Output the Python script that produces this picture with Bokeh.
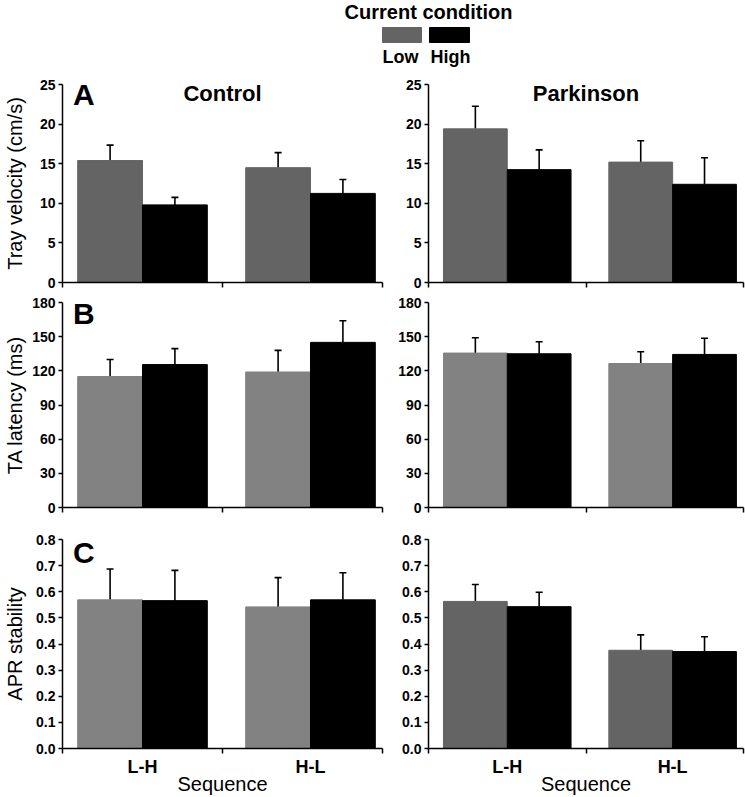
from bokeh.plotting import figure
from bokeh.layouts import column, row
from bokeh.models import (Range1d, FixedTicker, LinearAxis, Whisker, TeeHead,
                          ColumnDataSource, Label)
from bokeh.core.properties import value
from bokeh.embed import file_html
from bokeh.resources import INLINE

FONT = "Liberation Sans"

# ---------------- data ----------------
sequences = ["L-H", "H-L"]
conditions = ["Low", "High"]
groups = ["Control", "Parkinson"]

# Panel A: tray velocity (cm/s)
vel_control_low = [15.4, 14.5]
vel_control_low_se = [1.95, 1.9]
vel_control_high = [9.8, 11.25]
vel_control_high_se = [0.95, 1.75]
vel_parkinson_low = [19.4, 15.2]
vel_parkinson_low_se = [2.85, 2.7]
vel_parkinson_high = [14.25, 12.4]
vel_parkinson_high_se = [2.5, 3.35]
vel_ticks = [0, 5, 10, 15, 20, 25]
vel_tick_labels = ["0", "5", "10", "15", "20", "25"]

# Panel B: TA latency (ms)
lat_control_low = [115, 119]
lat_control_low_se = [15, 19]
lat_control_high = [125.5, 145]
lat_control_high_se = [14, 19]
lat_parkinson_low = [135.6, 126.4]
lat_parkinson_low_se = [13.4, 10.4]
lat_parkinson_high = [135, 134.4]
lat_parkinson_high_se = [10.6, 14.2]
lat_ticks = [0, 30, 60, 90, 120, 150, 180]
lat_tick_labels = ["0", "30", "60", "90", "120", "150", "180"]

# Panel C: APR stability
apr_control_low = [0.569, 0.542]
apr_control_low_se = [0.118, 0.112]
apr_control_high = [0.566, 0.569]
apr_control_high_se = [0.116, 0.104]
apr_parkinson_low = [0.563, 0.376]
apr_parkinson_low_se = [0.065, 0.059]
apr_parkinson_high = [0.543, 0.371]
apr_parkinson_high_se = [0.055, 0.057]
apr_ticks = [0.0, 0.1, 0.2, 0.3, 0.4, 0.5, 0.6, 0.7, 0.8]
apr_tick_labels = ["0.0", "0.1", "0.2", "0.3", "0.4", "0.5", "0.6", "0.7", "0.8"]

# ---------------- layout constants ----------------
GROUP_CENTERS = [0.5, 1.55]
BAR_W = 0.405
DARK_GRAY = "#646464"
LIGHT_GRAY = "#828282"

LEFT_W, RIGHT_W = 395, 350
LEFT_BORDER = (62, 13)
RIGHT_BORDER = (33, 2)
TITLE_OFFSET = 9     # px below frame top for title anchor


def make_panel(low, low_se, high, high_se, ymax, ticks, tick_labels, low_color,
               side, height, border_tb, ylabel=None, ylabel_standoff=5,
               letter=None, letter_offset=10, title=None, bottom_labels=False):
    width = LEFT_W if side == "left" else RIGHT_W
    bl, br = LEFT_BORDER if side == "left" else RIGHT_BORDER
    bt, bb = border_tb
    frame_h = height - bt - bb
    p = figure(width=width, height=height, x_range=Range1d(0, 2),
               y_range=Range1d(0, ymax), output_backend="svg",
               toolbar_location=None, min_border_left=bl, min_border_right=br,
               min_border_top=bt, min_border_bottom=bb)
    p.outline_line_color = None
    p.grid.visible = False
    p.background_fill_color = "white"
    p.border_fill_color = "white"

    x_low = [c - BAR_W / 2 for c in GROUP_CENTERS]
    x_high = [c + BAR_W / 2 for c in GROUP_CENTERS]
    p.vbar(x=x_low, top=low, width=BAR_W, bottom=0, fill_color=low_color,
           line_color=low_color)
    p.vbar(x=x_high, top=high, width=BAR_W, bottom=0, fill_color="black",
           line_color="black")

    for xs, vals, ses in ((x_low, low, low_se), (x_high, high, high_se)):
        src = ColumnDataSource(dict(x=xs, lower=vals,
                                    upper=[v + s for v, s in zip(vals, ses)]))
        w = Whisker(source=src, base="x", lower="lower", upper="upper",
                    dimension="height", line_color="black", line_width=1.6,
                    lower_head=None,
                    upper_head=TeeHead(size=7, line_color="black", line_width=1.6))
        p.add_layout(w)

    # y axis
    ya = p.yaxis[0]
    ya.ticker = FixedTicker(ticks=ticks)
    ya.major_label_overrides = {t: l for t, l in zip(ticks, tick_labels)}
    ya.major_label_text_font = FONT
    ya.major_label_text_font_style = "bold"
    ya.major_label_text_font_size = "14px"
    ya.major_label_text_color = "black"
    ya.major_label_standoff = 3
    ya.major_tick_out = 4
    ya.major_tick_in = 0
    ya.minor_tick_out = 0
    ya.minor_tick_in = 0
    ya.axis_line_color = "black"
    ya.axis_line_width = 1.5
    ya.major_tick_line_width = 1.5
    ya.major_tick_line_color = "black"
    if ylabel:
        ya.axis_label = ylabel
        ya.axis_label_text_font = FONT
        ya.axis_label_text_font_style = "normal"
        ya.axis_label_text_font_size = "20px"
        ya.axis_label_text_color = "black"
        ya.axis_label_standoff = ylabel_standoff

    # x axis (tick marks only)
    xa = p.xaxis[0]
    xa.ticker = FixedTicker(ticks=[0, 1, 2])
    xa.major_label_overrides = {0: "", 1: "", 2: ""}
    xa.major_label_text_font_size = "0px"
    xa.major_label_standoff = 0
    xa.major_tick_out = 5
    xa.major_tick_in = 0
    xa.minor_tick_out = 0
    xa.minor_tick_in = 0
    xa.axis_line_color = "black"
    xa.axis_line_width = 1.5
    xa.major_tick_line_width = 1.5
    xa.major_tick_line_color = "black"

    if bottom_labels:
        xb = LinearAxis(ticker=FixedTicker(ticks=GROUP_CENTERS),
                        major_label_overrides={c: s for c, s in zip(GROUP_CENTERS, sequences)},
                        major_tick_out=0, major_tick_in=0, minor_tick_out=0,
                        minor_tick_in=0, axis_line_color=None,
                        major_label_standoff=3,
                        major_label_text_font=FONT,
                        major_label_text_font_style="bold",
                        major_label_text_font_size="18px",
                        major_label_text_color="black",
                        axis_label="Sequence", axis_label_text_font=FONT,
                        axis_label_text_font_style="normal",
                        axis_label_text_font_size="20px",
                        axis_label_text_color="black",
                        axis_label_standoff=-7)
        p.add_layout(xb, "below")

    if letter:
        p.add_layout(Label(x=0.065, y=ymax * (1 - letter_offset / frame_h), text=letter,
                           text_font=FONT, text_font_style="bold",
                           text_font_size="30px", text_color="black",
                           text_baseline="alphabetic", text_align="left"))
    if title:
        p.add_layout(Label(x=1.0, y=ymax * (1 - TITLE_OFFSET / frame_h), text=title,
                           text_font=FONT, text_font_style="bold",
                           text_font_size="22px", text_color="black",
                           text_baseline="alphabetic", text_align="center"))
    return p


# ---------------- legend strip ----------------
leg = figure(width=745, height=74, x_range=Range1d(0, 745), y_range=Range1d(74, 0),
             x_axis_type=None, y_axis_type=None, output_backend="svg",
             toolbar_location=None, min_border=0)
leg.outline_line_color = None
leg.grid.visible = False
leg.text(x=[428], y=[11], text=["Current condition"], text_font=value(FONT),
         text_font_style="bold", text_font_size="20px", text_align="center",
         text_baseline="alphabetic", text_color="black")
leg_colors = [DARK_GRAY, "black"]
leg.quad(left=[382, 429], right=[421, 469], top=[27, 27], bottom=[42, 42],
         fill_color=leg_colors, line_color=leg_colors)
leg.text(x=[400, 450], y=[56, 56], text=conditions, text_font=value(FONT),
         text_font_style="bold", text_font_size="18px", text_align="center",
         text_baseline="alphabetic", text_color="black")

# ---------------- panels ----------------
A_H, A_B = 218, (10, 10)
B_H, B_B = 227, (10, 12)
C_H, C_B = 278, (20, 45)

a1 = make_panel(vel_control_low, vel_control_low_se, vel_control_high, vel_control_high_se,
                25, vel_ticks, vel_tick_labels, DARK_GRAY, "left", A_H, A_B,
                ylabel="Tray velocity (cm/s)", ylabel_standoff=11, letter="A",
                letter_offset=10, title=groups[0])
a2 = make_panel(vel_parkinson_low, vel_parkinson_low_se, vel_parkinson_high, vel_parkinson_high_se,
                25, vel_ticks, vel_tick_labels, DARK_GRAY, "right", A_H, A_B, title=groups[1])
b1 = make_panel(lat_control_low, lat_control_low_se, lat_control_high, lat_control_high_se,
                180, lat_ticks, lat_tick_labels, LIGHT_GRAY, "left", B_H, B_B,
                ylabel="TA latency (ms)", ylabel_standoff=3, letter="B", letter_offset=11)
b2 = make_panel(lat_parkinson_low, lat_parkinson_low_se, lat_parkinson_high, lat_parkinson_high_se,
                180, lat_ticks, lat_tick_labels, LIGHT_GRAY, "right", B_H, B_B)
c1 = make_panel(apr_control_low, apr_control_low_se, apr_control_high, apr_control_high_se,
                0.8, apr_ticks, apr_tick_labels, LIGHT_GRAY, "left", C_H, C_B,
                ylabel="APR stability", ylabel_standoff=7, letter="C", letter_offset=13,
                bottom_labels=True)
c2 = make_panel(apr_parkinson_low, apr_parkinson_low_se, apr_parkinson_high, apr_parkinson_high_se,
                0.8, apr_ticks, apr_tick_labels, DARK_GRAY, "right", C_H, C_B, bottom_labels=True)

layout = column(leg, row(a1, a2), row(b1, b2), row(c1, c2))

open("out.html", "w").write(file_html(layout, INLINE))
